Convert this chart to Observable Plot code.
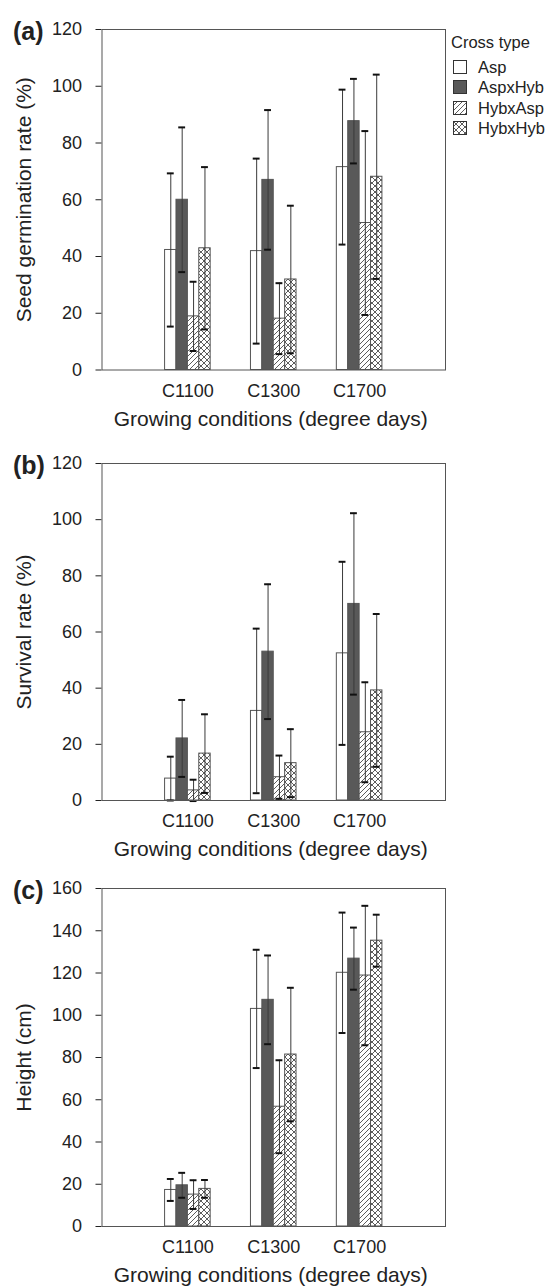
<!DOCTYPE html>
<html>
<head>
<meta charset="utf-8">
<script src="https://cdn.jsdelivr.net/npm/d3@7"></script>
<script src="https://cdn.jsdelivr.net/npm/@observablehq/plot@0.6"></script>
<style>
  html, body { margin: 0; padding: 0; background: #fff; }
  body { width: 545px; height: 1288px; position: relative; overflow: hidden;
         font-family: "Liberation Sans", Arial, sans-serif; color: #222; }
  .panel { position: absolute; left: 0; }
  .legend { position: absolute; left: 451px; top: 32px; font-size: 16.5px; line-height: 20.5px; }
  .legend .row { display: flex; align-items: center; height: 20.5px; }
  .legend .row svg { margin-left: 2px; margin-right: 11px; }
</style>
</head>
<body>
<svg width="0" height="0" style="position:absolute">
  <defs>
    <pattern id="diag" patternUnits="userSpaceOnUse" width="5" height="5">
      <rect width="5" height="5" fill="#fff"/>
      <path d="M-1,1 l2,-2 M0,5 l5,-5 M4,6 l2,-2" stroke="#333" stroke-width="0.8"/>
    </pattern>
    <pattern id="cross" patternUnits="userSpaceOnUse" width="6" height="6">
      <rect width="6" height="6" fill="#fff"/>
      <path d="M-1,1 l2,-2 M0,6 l6,-6 M5,7 l2,-2 M-1,5 l2,2 M0,0 l6,6 M5,-1 l2,2" stroke="#333" stroke-width="0.8"/>
    </pattern>
  </defs>
</svg>
<div id="a" class="panel" style="top:8.5px"></div>
<div id="b" class="panel" style="top:443px"></div>
<div id="c" class="panel" style="top:868px"></div>
<div class="legend" id="legend"></div>
<script>
// ---------- data ----------
const groups = ["C1100", "C1300", "C1700"];
const crossTypes = ["Asp", "AspxHyb", "HybxAsp", "HybxHyb"];
const crossFills = ["#ffffff", "#595959", "url(#diag)", "url(#cross)"];

// (a) Seed germination rate (%) — rows follow crossTypes, columns follow groups
const germMean = [
  [42.3, 41.9, 71.5],
  [60.0, 67.0, 87.7],
  [18.9, 18.1, 51.8],
  [42.9, 31.9, 68.1]
];
const germErr = [
  [27.0, 32.6, 27.3],
  [25.5, 24.6, 14.9],
  [12.2, 12.5, 32.4],
  [28.6, 26.0, 36.0]
];

// (b) Survival rate (%)
const survMean = [
  [7.8, 31.9, 52.4],
  [22.1, 53.0, 70.0],
  [3.6, 8.3, 24.3],
  [16.7, 13.3, 39.2]
];
const survErr = [
  [7.8, 29.3, 32.6],
  [13.7, 24.0, 32.3],
  [3.8, 7.7, 17.8],
  [14.0, 12.1, 27.2]
];

// (c) Height (cm)
const heightMean = [
  [17.3, 103.0, 120.1],
  [19.5, 107.3, 126.8],
  [15.1, 56.7, 118.8],
  [17.8, 81.4, 135.3]
];
const heightErr = [
  [5.2, 28.0, 28.5],
  [5.9, 21.0, 14.7],
  [6.8, 22.0, 33.0],
  [4.2, 31.6, 12.3]
];

const ticksPct = [0, 20, 40, 60, 80, 100, 120];
const ticksCm = [0, 20, 40, 60, 80, 100, 120, 140, 160];
const xTitle = "Growing conditions (degree days)";

// ---------- drawing ----------
const barW = 0.1327;   // bar width in x units (group slots are 1 unit apart)
const capHalf = 0.04;

function table(means, errs) {
  const rows = [];
  crossTypes.forEach((t, i) => {
    groups.forEach((g, j) => {
      const c = j + 1 + (i - 1.5) * barW;
      rows.push({type: t, group: g, mean: means[i][j], err: errs[i][j],
                 x1: c - barW / 2, x2: c + barW / 2, xc: c});
    });
  });
  return rows;
}

function panel(el, letter, yTitle, means, errs, yTicks, height) {
  const data = table(means, errs);
  const yMax = yTicks[yTicks.length - 1];
  const chart = Plot.plot({
    width: 545,
    height,
    marginTop: 20,
    marginBottom: 62,
    marginLeft: 101.5,
    marginRight: 100,
    style: {fontFamily: '"Liberation Sans", Arial, sans-serif', fontSize: "18px", color: "#222", background: "transparent"},
    x: {domain: [0, 4], ticks: [1, 2, 3], tickFormat: d => groups[d - 1], tickSize: 0, tickPadding: 14, label: null},
    y: {domain: [0, yMax], ticks: yTicks, tickSize: 6, tickPadding: 14, label: null},
    color: {type: "ordinal", domain: crossTypes, range: crossFills},
    marks: [
      Plot.rectY(data, {x1: "x1", x2: "x2", y: "mean", fill: "type", stroke: "#555", strokeWidth: 1}),
      Plot.ruleX(data, {x: "xc", y1: d => d.mean - d.err, y2: d => d.mean + d.err, stroke: "#3a3a3a", strokeWidth: 1}),
      Plot.ruleY(data, {y: d => d.mean + d.err, x1: d => d.xc - capHalf, x2: d => d.xc + capHalf, stroke: "#111", strokeWidth: 2}),
      Plot.ruleY(data, {y: d => d.mean - d.err, x1: d => d.xc - capHalf, x2: d => d.xc + capHalf, stroke: "#111", strokeWidth: 2}),
      Plot.frame({stroke: "#555", strokeWidth: 1}),
      Plot.text([xTitle], {frameAnchor: "bottom", dx: -3, dy: 49, textAnchor: "middle", lineAnchor: "middle", fontSize: 21, fill: "#222"}),
      Plot.text([yTitle], {frameAnchor: "left", dx: -78, rotate: -90, textAnchor: "middle", lineAnchor: "middle", fontSize: 21, fill: "#222"}),
      Plot.text([letter], {frameAnchor: "top-left", dx: -89, dy: 2.5, textAnchor: "start", lineAnchor: "middle", fontSize: 25, fontWeight: "bold", fill: "#222"})
    ]
  });
  document.getElementById(el).appendChild(chart);
}

panel("a", "(a)", "Seed germination rate (%)", germMean, germErr, ticksPct, 422.5);
panel("b", "(b)", "Survival rate (%)", survMean, survErr, ticksPct, 419);
panel("c", "(c)", "Height (cm)", heightMean, heightErr, ticksCm, 420);

// legend
const legend = document.getElementById("legend");
const head = document.createElement("div");
head.textContent = "Cross type";
head.style.marginBottom = "4px";
legend.appendChild(head);
crossTypes.forEach((t, i) => {
  const row = document.createElement("div");
  row.className = "row";
  row.innerHTML = `<svg width="14" height="14"><rect x="0.5" y="0.5" width="13" height="13" fill="${crossFills[i]}" stroke="#333" stroke-width="1"/></svg><span>${t}</span>`;
  legend.appendChild(row);
});
</script>
</body>
</html>
